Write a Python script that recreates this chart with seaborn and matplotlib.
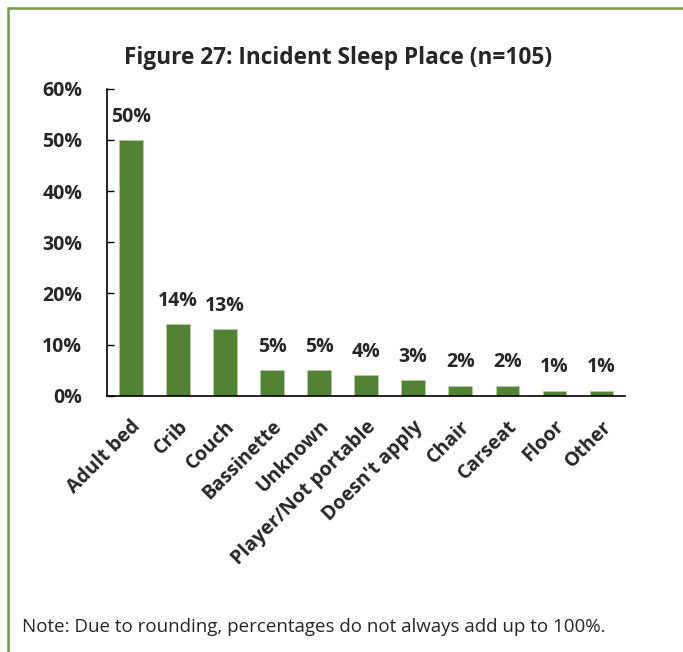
import matplotlib
matplotlib.use("Agg")
import matplotlib.pyplot as plt
import matplotlib.patches as mpatches
import seaborn as sns
import pandas as pd
import numpy as np

places = ["Adult bed", "Crib", "Couch", "Bassinette", "Unknown",
          "Player/Not portable", "Doesn't apply", "Chair", "Carseat", "Floor", "Other"]
percents = [50, 14, 13, 5, 5, 4, 3, 2, 2, 1, 1]

df = pd.DataFrame({"Place": places, "Percent": percents})

sns.set_style("white")
plt.rcParams["font.family"] = ["Open Sans", "DejaVu Sans"]

fig = plt.figure(figsize=(6.83, 6.52), dpi=100)
ax = fig.add_axes([0.157, 0.393, 0.758, 0.471])

sns.barplot(data=df, x="Place", y="Percent", color="#548235", width=0.5,
            edgecolor="#b5cca0", linewidth=0.6, ax=ax, saturation=1)

for i, v in enumerate(percents):
    ax.text(i, v + 2.6, f"{v}%", ha="center", va="bottom",
            fontsize=14, fontweight="bold")

ax.set_ylim(0, 60)
ax.set_xlim(-0.5, len(places) - 0.5)
ax.set_yticks(np.arange(0, 61, 10))
ax.set_yticklabels([f"{t}%" for t in range(0, 61, 10)], fontsize=14, fontweight="bold")
ax.set_xticks(range(len(places)))
ax.set_xticklabels(places, rotation=45, ha="right", rotation_mode="anchor",
                   fontsize=14, fontweight="bold")
ax.set_xticks(np.arange(-0.5, len(places), 1), minor=True)
ax.tick_params(axis="x", which="major", length=0, pad=15)
ax.tick_params(axis="x", which="minor", direction="in", length=5, width=1, color="black")
ax.tick_params(axis="y", direction="in", length=5, width=1, color="black", left=True, pad=18)
ax.set_xlabel("")
ax.set_ylabel("")
for side in ["top", "right"]:
    ax.spines[side].set_visible(False)
for side in ["left", "bottom"]:
    ax.spines[side].set_color("black")
    ax.spines[side].set_linewidth(1.2)

fig.text(0.495, 0.911, "Figure 27: Incident Sleep Place (n=105)", ha="center", va="center",
         fontsize=16.3, fontweight="bold")
fig.text(0.032, 0.038, "Note: Due to rounding, percentages do not always add up to 100%.",
         ha="left", va="center", fontsize=13.5)

border = mpatches.Rectangle((0.0117, -0.5), 2, 0.9877 + 0.5, transform=fig.transFigure,
                            fill=False, edgecolor="#6f9a45", linewidth=1.8)
fig.patches.append(border)

fig.savefig("out.png", dpi=100)
